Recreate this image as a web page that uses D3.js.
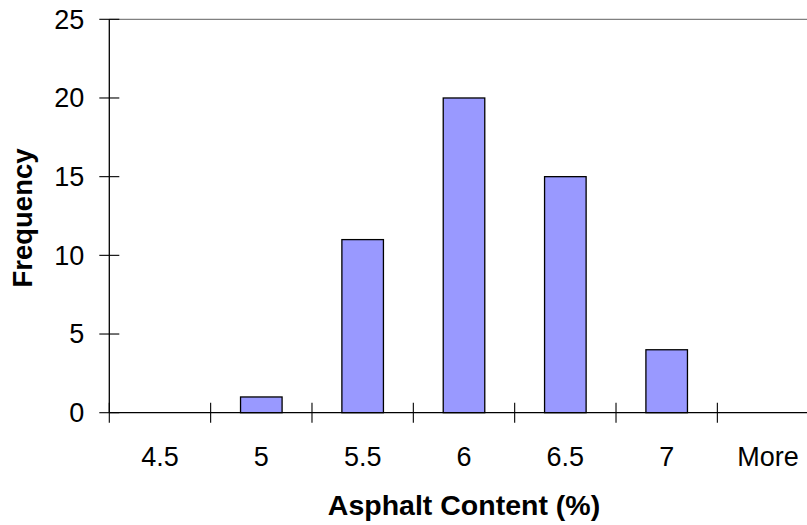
<!DOCTYPE html>
<html><head><meta charset="utf-8">
<script src="https://cdn.jsdelivr.net/npm/d3@7"></script>
<style>
html,body{margin:0;padding:0;background:#fff;overflow:hidden;}
svg{display:block;}
text{font-family:"Liberation Sans",Arial,sans-serif;fill:#000;}
</style></head>
<body>
<script>
const categories = ["4.5", "5", "5.5", "6", "6.5", "7", "More"];
const frequency = [0, 1, 11, 20, 15, 4, 0];
const yTicks = [0, 5, 10, 15, 20, 25];
const xTitle = "Asphalt Content (%)";
const yTitle = "Frequency";

(function () {
const W = 807, H = 525;
const pL = 109.3, pR = 818.7, pT = 19.3, pB = 412.7;

const svg = d3.select("body").append("svg").attr("width", W).attr("height", H);

const x = d3.scaleBand().domain(categories).range([pL, pR]).padding(0);
const y = d3.scaleLinear().domain([0, 25]).range([pB, pT]);
const bw = x.bandwidth();
const barFrac = 0.41;

// top and right border (gray)
svg.append("line").attr("x1", pL).attr("x2", pR).attr("y1", y(25)).attr("y2", y(25))
  .attr("stroke", "#808080").attr("stroke-width", 1.3);
svg.append("line").attr("x1", pR).attr("x2", pR).attr("y1", pT).attr("y2", pB)
  .attr("stroke", "#808080").attr("stroke-width", 1.3);

// bars
svg.selectAll("rect.bar").data(categories.map((c, i) => ({c, v: frequency[i]})).filter(d => d.v > 0))
  .enter().append("rect").attr("class", "bar")
  .attr("x", d => x(d.c) + bw * (1 - barFrac) / 2)
  .attr("width", bw * barFrac)
  .attr("y", d => y(d.v))
  .attr("height", d => y(0) - y(d.v))
  .attr("fill", "#9999FF").attr("stroke", "#000").attr("stroke-width", 1.3);

// y axis
svg.append("line").attr("x1", pL).attr("x2", pL).attr("y1", pT).attr("y2", pB)
  .attr("stroke", "#000").attr("stroke-width", 1.3);
svg.selectAll("line.ytick").data(yTicks).enter().append("line").attr("class", "ytick")
  .attr("x1", pL - 10).attr("x2", pL + 10)
  .attr("y1", d => y(d)).attr("y2", d => y(d))
  .attr("stroke", "#000").attr("stroke-width", 1.1);
svg.selectAll("text.ylab").data(yTicks).enter().append("text").attr("class", "ylab")
  .attr("x", pL - 25).attr("y", d => y(d)).attr("dy", "0.35em")
  .attr("text-anchor", "end").attr("font-size", 27).text(d => d);

// x axis
svg.append("line").attr("x1", pL).attr("x2", pR).attr("y1", y(0)).attr("y2", y(0))
  .attr("stroke", "#000").attr("stroke-width", 1.3);
const bounds = categories.map(c => x(c)).concat([x(categories[categories.length - 1]) + bw]);
svg.selectAll("line.xtick").data(bounds).enter().append("line").attr("class", "xtick")
  .attr("x1", d => d).attr("x2", d => d)
  .attr("y1", y(0) - 10).attr("y2", y(0) + 10)
  .attr("stroke", "#000").attr("stroke-width", 1.1);
svg.selectAll("text.xlab").data(categories).enter().append("text").attr("class", "xlab")
  .attr("x", d => x(d) + bw / 2).attr("y", 465.5)
  .attr("text-anchor", "middle").attr("font-size", 27).text(d => d);

// titles
svg.append("text").attr("x", (pL + pR) / 2).attr("y", 515)
  .attr("text-anchor", "middle").attr("font-size", 28.5).attr("font-weight", "bold").text(xTitle);
svg.append("text").attr("transform", `translate(31.5,${(pT + pB) / 2 + 2}) rotate(-90)`)
  .attr("text-anchor", "middle").attr("font-size", 27.5).attr("font-weight", "bold").text(yTitle);
})();
</script>
</body></html>
